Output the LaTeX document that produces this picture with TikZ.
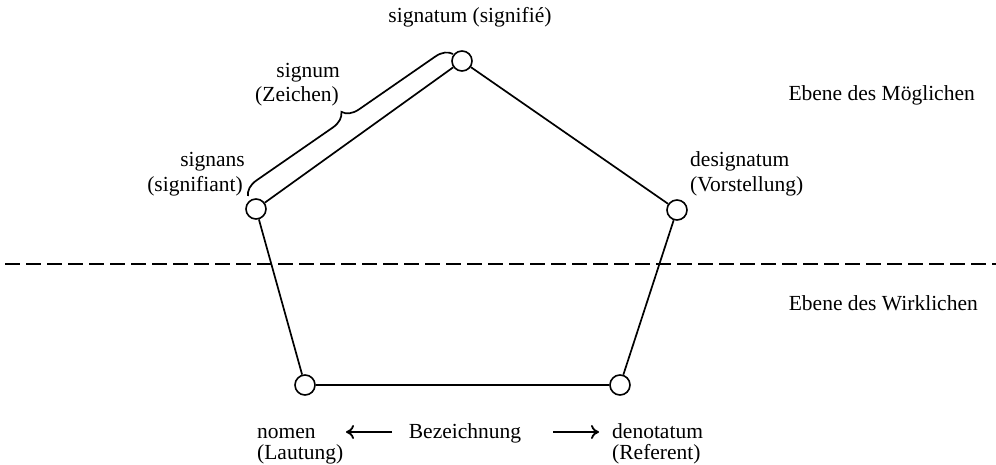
\documentclass[tikz,border=0pt]{standalone}
\usepackage{fontspec}
\setmainfont{Liberation Serif}
\usetikzlibrary{decorations.pathreplacing,arrows.meta}
\begin{document}
\begin{tikzpicture}[x=1pt,y=-1pt,
  pt/.style={circle,draw,line width=1.6pt,minimum size=20pt,inner sep=0pt,fill=white},
  edge/.style={line width=1.7pt},
  lbl/.style={font=\fontsize{21.5}{24}\selectfont,inner sep=0pt},
  arr/.style={line width=1.8pt,-{To[length=8pt,width=14pt]}}]
\useasboundingbox (0,0) rectangle (996,465);
\draw[line width=1.6pt,dash pattern=on 15pt off 6pt] (5,264) -- (996,264);
\node[pt] (sa) at (462,61) {};
\node[pt] (sl) at (256,209) {};
\node[pt] (sr) at (677,210) {};
\node[pt] (bl) at (305,385) {};
\node[pt] (br) at (620,385) {};
\draw[edge] (sl) -- (bl) -- (br) -- (sr) -- (sa) -- (sl);
\coordinate (b1) at (248,196);
\coordinate (b2) at (453,54);
\draw[edge,decorate,decoration={brace,amplitude=16pt}] (b1) -- (b2);
\node[lbl,anchor=base] (tsa) at (470,23) {signatum (signifié)};
\node[lbl,anchor=base east] (tsg1) at (340,78) {signum};
\node[lbl,anchor=base east] (tsg2) at (339,102) {(Zeichen)};
\node[lbl,anchor=base east] (tsl1) at (245,167) {signans};
\node[lbl,anchor=base east] (tsl2) at (243,192) {(signifiant)};
\node[lbl,anchor=base west] (tsr1) at (690,167) {designatum};
\node[lbl,anchor=base west] (tsr2) at (690,192) {(Vorstellung)};
\node[lbl,anchor=base east] (em) at (975,101) {Ebene des Möglichen};
\node[lbl,anchor=base east] (ew) at (978,310) {Ebene des Wirklichen};
\node[lbl,anchor=base west] (tbl1) at (257,438) {nomen};
\node[lbl,anchor=base west] (tbl2) at (257,459) {(Lautung)};
\node[lbl,anchor=base west] (tbr1) at (612,438) {denotatum};
\node[lbl,anchor=base west] (tbr2) at (612,459) {(Referent)};
\node[lbl,anchor=base] (bez) at (465,438) {Bezeichnung};
\coordinate (al1) at (392,432);
\coordinate (al2) at (346,432);
\coordinate (ar1) at (553,432);
\coordinate (ar2) at (599,432);
\draw[arr] (al1) -- (al2);
\draw[arr] (ar1) -- (ar2);
\end{tikzpicture}
\end{document}
